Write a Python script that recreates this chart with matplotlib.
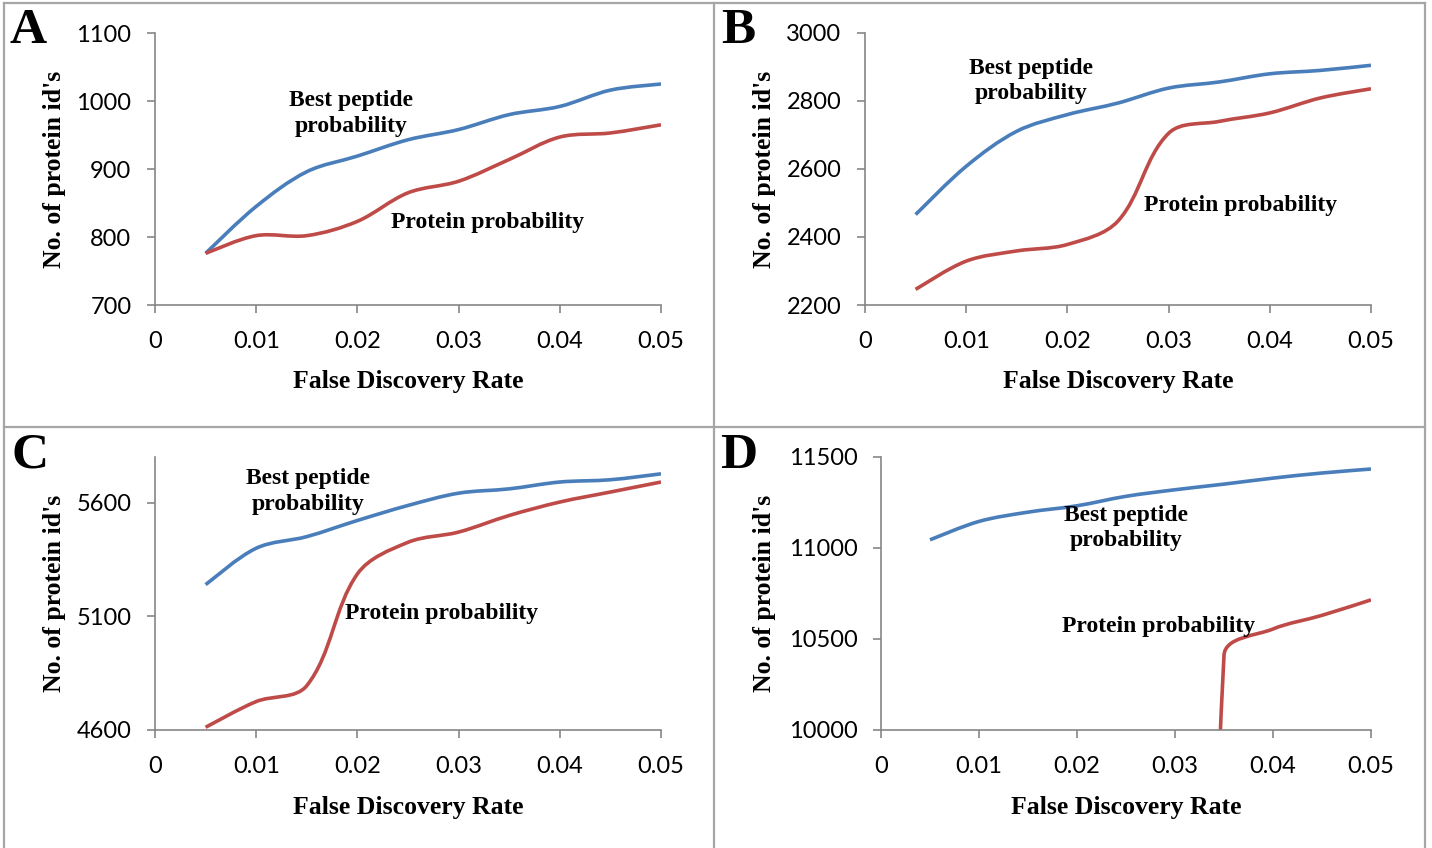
import numpy as np
import matplotlib.pyplot as plt
from matplotlib.path import Path
from matplotlib.patches import PathPatch
from matplotlib.lines import Line2D

# false discovery rate thresholds (x axis of every panel)
fdr = [0.005, 0.01, 0.015, 0.02, 0.025, 0.03, 0.035, 0.04, 0.045, 0.05]
fdr_ticks = [0, 0.01, 0.02, 0.03, 0.04, 0.05]
fdr_labels = ['0', '0.01', '0.02', '0.03', '0.04', '0.05']

# panel A
a_best = [776, 845, 896, 919, 943, 958, 980, 992, 1016, 1025]
a_protein = [776, 802, 802, 823, 865, 882, 914, 947, 953, 965]
a_yticks = [700, 800, 900, 1000, 1100]

# panel B
b_best = [2466, 2608, 2711, 2760, 2794, 2838, 2856, 2880, 2890, 2905]
b_protein = [2246, 2329, 2359, 2378, 2447, 2705, 2740, 2765, 2809, 2836]
b_yticks = [2200, 2400, 2600, 2800, 3000]

# panel C
c_best = [5239, 5399, 5450, 5521, 5587, 5641, 5660, 5690, 5700, 5726]
c_protein = [4612, 4725, 4795, 5286, 5425, 5470, 5543, 5602, 5646, 5690]
c_yticks = [4600, 5100, 5600]

# panel D (protein series is below the axis minimum until 0.035)
d_best = [11045, 11146, 11197, 11232, 11284, 11320, 11351, 11384, 11412, 11434]
d_protein = [0, 0, 0, 0, 0, 0, 10410, 10555, 10630, 10715]
d_yticks = [10000, 10500, 11000, 11500]

BLUE = '#4A7EBB'
RED = '#BE4B48'
AXIS = '#868686'
SERIF = 'Liberation Serif'

W, H = 1432, 848
fig = plt.figure(figsize=(W / 100, H / 100), dpi=100)


def px_axes(left, top, right, bottom):
    return fig.add_axes([left / W, 1 - bottom / H, (right - left) / W, (bottom - top) / H])


def smooth_line(ax, x, y, color):
    # excel-like smoothed line: bezier segments built in screen space
    pts = ax.transData.transform(np.column_stack([x, y]))
    n = len(pts)
    verts = [pts[0]]
    for i in range(n - 1):
        p0, p1 = pts[i], pts[i + 1]
        d = np.hypot(*(p1 - p0))
        t0 = pts[min(i + 1, n - 1)] - pts[max(i - 1, 0)]
        t1 = pts[min(i + 2, n - 1)] - pts[i]
        k0 = 1 / 6 if i == 0 else 1 / 3
        k1 = 1 / 6 if i + 1 == n - 1 else 1 / 3
        c0 = p0 + t0 / np.hypot(*t0) * d * k0
        c1 = p1 - t1 / np.hypot(*t1) * d * k1
        verts += [c0, c1, p1]
    verts = ax.transData.inverted().transform(np.array(verts))
    codes = [Path.MOVETO] + [Path.CURVE4] * (len(verts) - 1)
    ax.add_patch(PathPatch(Path(verts, codes), fill=False, edgecolor=color,
                           lw=2.6, capstyle='butt', joinstyle='round'))


panels = [
    # letter, rect(px), ylim, yticks, best, protein, best label pos, protein label pos, ylabel x, letter pos
    ('A', (155, 33, 661, 305), (700, 1100), a_yticks, a_best, a_protein,
     (0.0194, 982), (0.0329, 822), -0.176, (10, 8)),
    ('B', (865, 33, 1371, 305), (2200, 3000), b_yticks, b_best, b_protein,
     (0.0164, 2859), (0.03715, 2494), -0.176, (721, 8)),
    ('C', (155, 457, 661, 730), (4600, 5800), c_yticks, c_best, c_protein,
     (0.0151, 5650), (0.0283, 5114), -0.176, (11, 433)),
    ('D', (881, 457, 1371, 730), (10000, 11500), d_yticks, d_best, d_protein,
     (0.025, 11110), (0.0283, 10571), -0.215, (720, 433)),
]

for letter, rect, ylim, yticks, best, protein, bpos, ppos, ylx, lpos in panels:
    ax = px_axes(*rect)
    ax.set_xlim(0, 0.05)
    ax.set_ylim(*ylim)
    ax.set_xticks(fdr_ticks)
    ax.set_xticklabels(fdr_labels)
    ax.set_yticks(yticks)
    ax.spines[['top', 'right']].set_visible(False)
    for s in ('left', 'bottom'):
        ax.spines[s].set_color(AXIS)
        ax.spines[s].set_linewidth(1.2)
    ax.tick_params(direction='out', length=6, width=1.2, color=AXIS,
                   labelsize=17, labelfontfamily='Lato')
    ax.tick_params(axis='y', pad=11)
    ax.tick_params(axis='x', pad=13)

    smooth_line(ax, fdr, best, BLUE)
    smooth_line(ax, fdr, protein, RED)

    ax.text(*bpos, 'Best peptide\nprobability', ha='center', va='center',
            fontsize=17, fontweight='bold', family=SERIF, linespacing=1.3)
    ax.text(*ppos, 'Protein probability', ha='center', va='center',
            fontsize=17, fontweight='bold', family=SERIF)

    ax.set_xlabel('False Discovery Rate', fontsize=18.5, fontweight='bold', family=SERIF)
    ax.xaxis.set_label_coords(0.5, -0.24)
    ax.set_ylabel("No. of protein id's", fontsize=18.5, fontweight='bold', family=SERIF)
    ax.yaxis.set_label_coords(ylx, 0.5)

    fig.text(lpos[0] / W, 1 - lpos[1] / H, letter, ha='left', va='top',
             fontsize=37, fontweight='bold', family=SERIF)

# panel frames
BORDER = '#A6A6A6'
for xs, ys in [((4, 4), (3, 848)), ((714, 714), (3, 848)), ((1425, 1425), (3, 848)),
               ((4, 1425), (3, 3)), ((4, 1425), (427, 427))]:
    fig.add_artist(Line2D([x / W for x in xs], [1 - y / H for y in ys],
                          color=BORDER, lw=1.6))

fig.savefig('out.png', dpi=100)
